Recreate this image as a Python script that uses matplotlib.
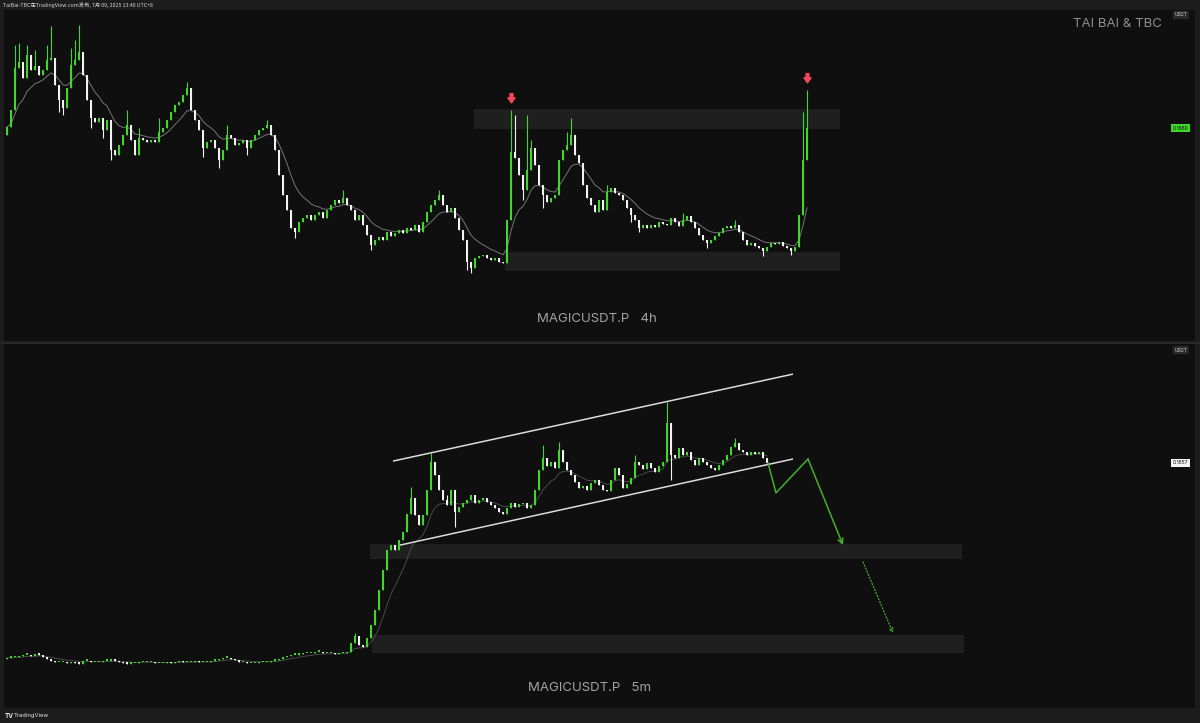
import numpy as np
import pandas as pd
import matplotlib
matplotlib.use("Agg")
import matplotlib.pyplot as plt
from matplotlib.patches import Rectangle
from matplotlib.path import Path
from matplotlib.lines import Line2D
from matplotlib.transforms import offset_copy

plt.rcParams['font.family'] = ['Inter', 'DejaVu Sans']

# ---------------- data ----------------
symbol = "MAGICUSDT.P"
tf_top, tf_bottom = "4h", "5m"
author_tag = "TAI BAI & TBC"
header_text = "TaiBai-TBC在TradingView.com发布, 7月 09, 2025 13:40 UTC+8"
quote_ccy = "USDT"

# 4h candles (closes, USDT)
top_open0 = 0.1625
top_close = [
    0.1665, 0.1750, 0.1960, 0.1990, 0.1910, 0.2025, 0.1950, 0.1970, 0.1925, 0.1950,
    0.2000, 0.2010, 0.1875, 0.1800, 0.1760, 0.1860, 0.1975, 0.2000, 0.2040, 0.1925,
    0.1800, 0.1710, 0.1690, 0.1710, 0.1650, 0.1700, 0.1550, 0.1525, 0.1575, 0.1625,
    0.1675, 0.1600, 0.1525, 0.1610, 0.1600, 0.1590, 0.1600, 0.1590, 0.1640, 0.1660,
    0.1700, 0.1740, 0.1775, 0.1790, 0.1825, 0.1860, 0.1750, 0.1700, 0.1650, 0.1560,
    0.1590, 0.1600, 0.1560, 0.1500, 0.1550, 0.1625, 0.1610, 0.1575, 0.1585, 0.1600,
    0.1560, 0.1600, 0.1625, 0.1650, 0.1660, 0.1675, 0.1625, 0.1550, 0.1425, 0.1325,
    0.1250, 0.1160, 0.1140, 0.1190, 0.1210, 0.1225, 0.1200, 0.1225, 0.1240, 0.1210,
    0.1250, 0.1275, 0.1300, 0.1285, 0.1310, 0.1275, 0.1250, 0.1200, 0.1225, 0.1175,
    0.1125, 0.1075, 0.1100, 0.1115, 0.1100, 0.1140, 0.1120, 0.1135, 0.1150, 0.1135,
    0.1160, 0.1150, 0.1175, 0.1140, 0.1190, 0.1240, 0.1275, 0.1300, 0.1325, 0.1275,
    0.1240, 0.1260, 0.1210, 0.1150, 0.1100, 0.0990, 0.0960, 0.1010, 0.1020, 0.1025,
    0.1010, 0.1000, 0.1010, 0.0990, 0.0985, 0.1200, 0.1540, 0.1510, 0.1425, 0.1350,
    0.1450, 0.1560, 0.1475, 0.1375, 0.1325, 0.1290, 0.1310, 0.1325, 0.1500, 0.1550,
    0.1575, 0.1625, 0.1525, 0.1485, 0.1375, 0.1310, 0.1275, 0.1240, 0.1300, 0.1250,
    0.1340, 0.1360, 0.1335, 0.1325, 0.1300, 0.1260, 0.1225, 0.1200, 0.1160, 0.1175,
    0.1160, 0.1175, 0.1165, 0.1190, 0.1180, 0.1175, 0.1210, 0.1190, 0.1170, 0.1200,
    0.1220, 0.1190, 0.1160, 0.1125, 0.1100, 0.1085, 0.1100, 0.1120, 0.1135, 0.1160,
    0.1170, 0.1160, 0.1175, 0.1140, 0.1100, 0.1075, 0.1085, 0.1070, 0.1060, 0.1045,
    0.1065, 0.1085, 0.1080, 0.1090, 0.1070, 0.1060, 0.1045, 0.1065, 0.1225, 0.1500,
    0.1660,
]
top_wick_high = {2: 0.2075, 3: 0.2085, 5: 0.2075, 7: 0.2050, 10: 0.2075, 11: 0.2170,
                 16: 0.2060, 17: 0.2100, 18: 0.2175, 30: 0.1750, 33: 0.1660, 38: 0.1710,
                 45: 0.1890, 55: 0.1675, 65: 0.1700, 84: 0.1350, 108: 0.1350,
                 126: 0.1750, 127: 0.1725, 130: 0.1725, 131: 0.1600, 140: 0.1640,
                 141: 0.1710, 150: 0.1375, 169: 0.1235, 182: 0.1200, 199: 0.1740,
                 200: 0.1850}
top_wick_low = {13: 0.1740, 14: 0.1725, 21: 0.1660, 24: 0.1610, 26: 0.1500, 49: 0.1515,
                53: 0.1460, 60: 0.1525, 72: 0.1110, 91: 0.1050, 115: 0.0950,
                116: 0.0935, 129: 0.1300, 134: 0.1260, 156: 0.1190, 158: 0.1140,
                175: 0.1060, 189: 0.1020, 196: 0.1025}
top_signal_bars = [126, 200]
# zones: (first bar, last bar, low, high)
top_zones = [(116.75, 208.25, 0.1655, 0.1755),
             (124.5, 208.25, 0.0945, 0.1040)]

# 5m candles (closes, USDT)
bot_open0 = 0.1003
bot_close = [
    0.1007, 0.1010, 0.1010, 0.1013, 0.1017, 0.1017, 0.1013, 0.1020, 0.1017, 0.1010,
    0.1003, 0.0997, 0.0993, 0.0993, 0.0993, 0.0990, 0.0993, 0.0990, 0.0987, 0.0997,
    0.0997, 0.0993, 0.0993, 0.0993, 0.0997, 0.0997, 0.1000, 0.0997, 0.0993, 0.0990,
    0.0987, 0.0990, 0.0990, 0.0993, 0.0993, 0.0993, 0.0993, 0.0990, 0.0990, 0.0990,
    0.0993, 0.0990, 0.0993, 0.0997, 0.0993, 0.0993, 0.0993, 0.0997, 0.0993, 0.0993,
    0.0993, 0.0997, 0.1000, 0.1003, 0.1007, 0.1007, 0.1003, 0.1000, 0.0993, 0.0993,
    0.0990, 0.0990, 0.0990, 0.0993, 0.0993, 0.0993, 0.0997, 0.1000, 0.1003, 0.1010,
    0.1013, 0.1017, 0.1017, 0.1020, 0.1023, 0.1023, 0.1023, 0.1027, 0.1027, 0.1023,
    0.1023, 0.1023, 0.1020, 0.1023, 0.1023, 0.1027,
    0.1057, 0.1080, 0.1050, 0.1043, 0.1073, 0.1117, 0.1167, 0.1233, 0.1300, 0.1367,
    0.1383, 0.1367, 0.1400, 0.1427, 0.1487, 0.1540, 0.1483, 0.1450, 0.1483, 0.1567,
    0.1660, 0.1617, 0.1567, 0.1533, 0.1517, 0.1567, 0.1493, 0.1510, 0.1523, 0.1533,
    0.1550, 0.1523, 0.1533, 0.1540, 0.1527, 0.1517, 0.1507, 0.1493, 0.1487, 0.1507,
    0.1523, 0.1510, 0.1520, 0.1523, 0.1507, 0.1517, 0.1567, 0.1633, 0.1673, 0.1647,
    0.1660, 0.1640, 0.1700, 0.1660, 0.1633, 0.1617, 0.1593, 0.1573, 0.1580, 0.1567,
    0.1590, 0.1600, 0.1583, 0.1567, 0.1563, 0.1600, 0.1640, 0.1617, 0.1573, 0.1587,
    0.1607, 0.1660, 0.1650, 0.1637, 0.1657, 0.1640, 0.1627, 0.1647, 0.1660, 0.1790,
    0.1683, 0.1673, 0.1707, 0.1683, 0.1693, 0.1667, 0.1650, 0.1673, 0.1660, 0.1650,
    0.1640, 0.1633, 0.1650, 0.1667, 0.1683, 0.1710, 0.1723, 0.1700, 0.1693, 0.1683,
    0.1693, 0.1687, 0.1693, 0.1673, 0.1657,
]
bot_wick_high = {87: 0.1090, 101: 0.1577, 106: 0.1690, 110: 0.1550, 134: 0.1717,
                 138: 0.1727, 157: 0.1683, 165: 0.1860, 182: 0.1740}
bot_wick_low = {112: 0.1443, 166: 0.1600}
bot_zones = [(90.75, 238.75, 0.1337, 0.1387),
             (91.25, 239.25, 0.1023, 0.1083)]
channel_upper = [(96.5, 0.1663), (196.5, 0.1953)]
channel_lower = [(98.25, 0.1383), (196.5, 0.1670)]
projection = [(190.25, 0.1657), (192.25, 0.1557), (200.25, 0.1670), (209.0, 0.1383)]
projection_next = [(214.0, 0.1327), (221.5, 0.1090)]

# ---------------- style ----------------
W, H = 1200, 723
FRAME = '#1c1c1c'
PANEL = '#0f0f0f'
ZONE = '#1f1f1f'
GREEN = '#3fd82b'
WHITE = '#f2f2f2'
PATH_GREEN = '#43b02d'
TEXT_GREY = '#a3a3a3'

fig = plt.figure(figsize=(W / 100, H / 100), dpi=100, facecolor=FRAME)


def px_axes(left, top, right, bottom):
    return fig.add_axes([left / W, 1 - bottom / H, (right - left) / W, (bottom - top) / H])


ax1 = px_axes(4, 10, 1195, 341)
ax2 = px_axes(4, 344, 1195, 708)
ax1.set_ylim(0.0595, 0.2250)
ax2.set_ylim(0.0840, 0.32 - 344 / 3000)

for ax in (ax1, ax2):
    ax.set_facecolor(PANEL)
    ax.set_xlim(-0.75, 297)
    ax.set_xticks([])
    ax.set_yticks([])
    for s in ax.spines.values():
        s.set_visible(False)


def draw_candles(ax, open0, closes, wick_hi, wick_lo, ma_color):
    c = np.asarray(closes, dtype=float)
    o = np.concatenate([[open0], c[:-1]])
    hi = np.maximum(o, c)
    lo = np.minimum(o, c)
    for k, v in wick_hi.items():
        hi[k] = v
    for k, v in wick_lo.items():
        lo[k] = v
    x = np.arange(len(c))
    cols = np.where(c >= o, GREEN, WHITE)
    y0, y1 = ax.get_ylim()
    px = (y1 - y0) / (ax.get_position().height * H)
    ax.vlines(x, lo, hi, colors=cols, lw=0.8, zorder=3)
    ax.bar(x, np.maximum(np.abs(c - o), 1.5 * px), bottom=np.minimum(o, c), width=0.74,
           color=cols, linewidth=0, zorder=4)
    ema = pd.Series(c).ewm(span=10, adjust=False).mean()
    ax.plot(x, ema, color=ma_color, lw=0.7, zorder=2)
    return c, hi


def draw_zones(ax, zones):
    for x0, x1, lo, hi in zones:
        ax.add_patch(Rectangle((x0, lo), x1 - x0, hi - lo, facecolor=ZONE,
                               edgecolor='none', zorder=1))


draw_zones(ax1, top_zones)
draw_zones(ax2, bot_zones)
tc, thi = draw_candles(ax1, top_open0, top_close, top_wick_high, top_wick_low, '#767676')
bc, bhi = draw_candles(ax2, bot_open0, bot_close, bot_wick_high, bot_wick_low, '#4a4a4a')

# signal arrows above the marked 4h bars
arrow_path = Path([(-0.3, 1.0), (0.3, 1.0), (0.3, 0.15), (0.75, 0.15), (0.0, -0.9),
                   (-0.75, 0.15), (-0.3, 0.15), (-0.3, 1.0)],
                  [Path.MOVETO] + [Path.LINETO] * 6 + [Path.CLOSEPOLY])
arrow_tr = offset_copy(ax1.transData, fig=fig, x=0, y=8.5, units='points')
for b in top_signal_bars:
    ax1.plot([b], [thi[b]], marker=arrow_path, markersize=7, color='#f2475d',
             linestyle='none', transform=arrow_tr, zorder=6)

# rising channel and projected path
for line in (channel_upper, channel_lower):
    xs, ys = zip(*line)
    ax2.plot(xs, ys, color='#dcdcdc', lw=1.1, zorder=5, solid_capstyle='butt')

px_, py_ = zip(*projection)
ax2.plot(px_[:-1], py_[:-1], color=PATH_GREEN, lw=1.1, zorder=5)
ax2.annotate('', xy=projection[-1], xytext=projection[-2],
             arrowprops=dict(arrowstyle='->', color=PATH_GREEN, lw=1.1,
                             shrinkA=0, shrinkB=0, mutation_scale=9), zorder=5)
ax2.annotate('', xy=projection_next[1], xytext=projection_next[0],
             arrowprops=dict(arrowstyle='->', color=PATH_GREEN, lw=0.9, linestyle=':',
                             shrinkA=0, shrinkB=0, mutation_scale=7), zorder=5)

# price scale labels
SCALE_X = 0.988
for ax, y_frac in ((ax1, 1 - 5 / 331), (ax2, 1 - 6 / 364)):
    ax.text(SCALE_X, y_frac, quote_ccy, transform=ax.transAxes, ha='center', va='center',
            fontsize=3.4, color='#d0d0d0', zorder=8,
            bbox=dict(boxstyle='round,pad=0.35,rounding_size=0.3', fc='#2a2a2a', ec='none'))
ax1.annotate(f"{tc[-1]:.4f}", xy=(SCALE_X, tc[-1]), xycoords=('axes fraction', 'data'),
             ha='center', va='center', fontsize=3.6, color='#0b0b0b', zorder=8,
             bbox=dict(boxstyle='square,pad=0.35', fc=GREEN, ec='none'))
ax2.annotate(f"{bc[-1]:.4f}", xy=(SCALE_X, bc[-1]), xycoords=('axes fraction', 'data'),
             ha='center', va='center', fontsize=3.6, color='#0b0b0b', zorder=8,
             bbox=dict(boxstyle='square,pad=0.35', fc='#f4f4f4', ec='none'))

# panel captions
fig.text(597 / W, 1 - 319 / H, f"{symbol}   {tf_top}", ha='center', va='center',
         fontsize=9.5, color=TEXT_GREY)
fig.text(590 / W, 1 - 688 / H, f"{symbol}   {tf_bottom}", ha='center', va='center',
         fontsize=9.5, color=TEXT_GREY)
fig.text(1162 / W, 1 - 24 / H, author_tag, ha='right', va='center',
         fontsize=9.5, color='#8e8e8e')

# header / footer
fig.text(3 / W, 1 - 5 / H, header_text, ha='left', va='center', fontsize=3.8,
         color='#d6d6d6', family=['Noto Sans CJK SC', 'DejaVu Sans'])
fig.text(5 / W, 1 - 716 / H, "TV", ha='left', va='center', fontsize=4.6,
         color='#e6e6e6', fontweight='bold')
fig.text(14 / W, 1 - 716 / H, "TradingView", ha='left', va='center', fontsize=4.2,
         color='#e6e6e6')

# panel separator
fig.add_artist(Line2D([0, 1], [1 - 342.5 / H] * 2, color='#2c2c2c', lw=1.2))

fig.savefig("out.png", dpi=100, facecolor=FRAME)
